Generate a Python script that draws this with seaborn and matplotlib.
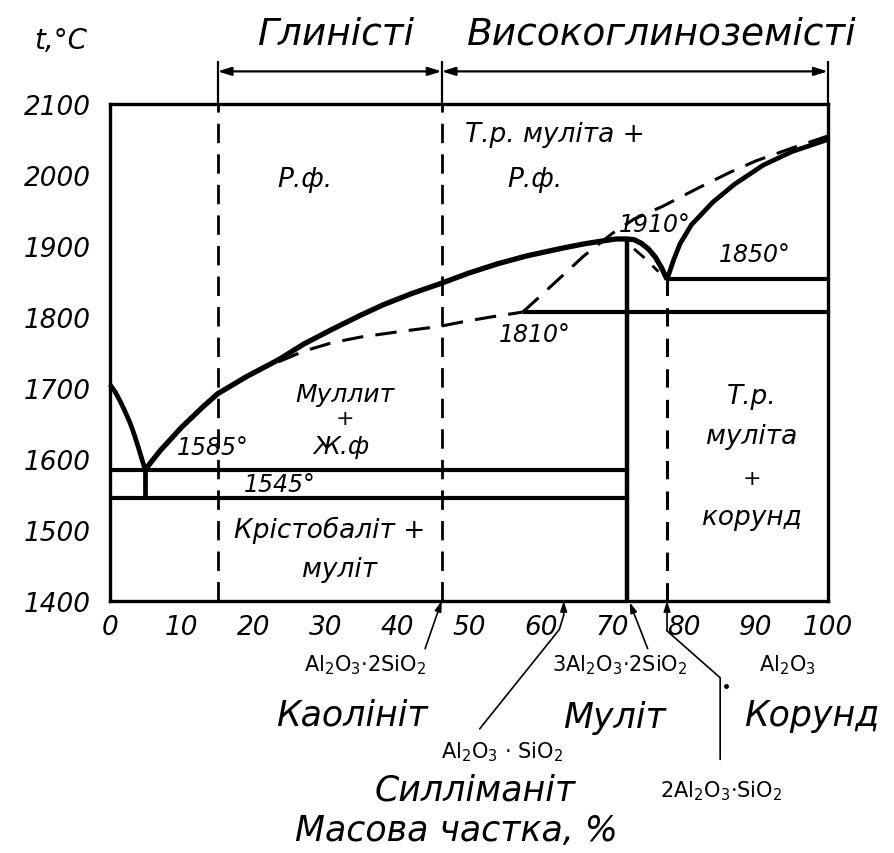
import matplotlib
matplotlib.use("Agg")
import matplotlib.pyplot as plt
import seaborn as sns
import numpy as np
import pandas as pd

# ---------------- data (mass fraction Al2O3, %, temperature °C) ----------------
crist_liq_x = [0, 0.7, 1.4, 2.1, 2.8, 3.4, 4.0, 4.5, 4.9]
crist_liq_t = [1705, 1695, 1682, 1667, 1651, 1634, 1615, 1598, 1585]

mull_liq_x = [4.9, 7, 10, 13, 15, 19, 23.5, 27, 31, 35, 38, 42, 46, 50, 54, 58, 63, 66,
              68.5, 70.5, 72, 73, 74, 75, 76, 76.8, 77.6]
mull_liq_t = [1585, 1612, 1645, 1674, 1692, 1716, 1740, 1762, 1783, 1803, 1817, 1833, 1847,
              1862, 1875, 1886, 1897, 1903, 1907, 1910, 1910, 1909, 1904, 1896, 1884, 1870, 1853]

corund_liq_x = [77.6, 78.5, 79.4, 81, 84, 87, 91, 95, 100]
corund_liq_t = [1853, 1880, 1903, 1930, 1962, 1987, 2014, 2033, 2050]

meta_upper_x = [57.5, 60, 63, 66, 70, 73, 77, 82, 86.4, 90, 95, 100]
meta_upper_t = [1807, 1830, 1858, 1886, 1918, 1938, 1956, 1982, 2004, 2020, 2038, 2055]

meta_lower_x = [23.5, 27, 31, 35, 40, 46, 49, 53, 57.5]
meta_lower_t = [1737, 1752, 1764, 1772, 1779, 1787, 1793, 1800, 1807]

meta_arc_x = [73.0, 74.6, 76.4]
meta_arc_t = [1896, 1882, 1864]

eutectic_lo_t = 1585
solidus_t = 1545
eutectic_hi_t = 1853
line_1810_t = 1807
mullite_x = 72
eut_hi_x = 77.6
eut_lo_x = 4.9
kaolin_x = 46.2
clay_x = 15

x_ticks = [0, 10, 20, 30, 40, 50, 60, 70, 80, 90, 100]
y_ticks = [1400, 1500, 1600, 1700, 1800, 1900, 2000, 2100]

sns.set_style("white")
plt.rcParams['font.family'] = ['DejaVu Sans']
plt.rcParams['mathtext.fontset'] = 'dejavusans'

fig = plt.figure(figsize=(8.94, 8.54), dpi=100)
ax = fig.add_axes([0.123, 0.295, 0.803, 0.582])
ax.set_xlim(0, 100)
ax.set_ylim(1400, 2100)

K = 'black'

def curve(xs, ts, lw=3.6, ls='-', dashes=None):
    df = pd.DataFrame({'x': xs, 't': ts})
    kw = {}
    if ls != '-':
        kw['linestyle'] = ls
    sns.lineplot(data=df, x='x', y='t', sort=False, estimator=None, color=K,
                 linewidth=lw, ax=ax, **kw)
    line = ax.lines[-1]
    if dashes is not None:
        line.set_dashes(dashes)
    line.set_clip_on(False)
    line.set_solid_capstyle('butt')
    line.set_solid_joinstyle('round')
    return line

# liquidus curves
curve(crist_liq_x, crist_liq_t, lw=3.4)
curve(mull_liq_x, mull_liq_t, lw=3.8)
curve(corund_liq_x, corund_liq_t, lw=3.4)
# metastable dashed curves
curve(meta_upper_x, meta_upper_t, lw=2.2, ls='--', dashes=(7, 4))
curve(meta_lower_x, meta_lower_t, lw=2.2, ls='--', dashes=(7, 4))
curve(meta_arc_x, meta_arc_t, lw=2.0, ls='--', dashes=(5, 4))

# horizontal lines
curve([0, mullite_x], [eutectic_lo_t, eutectic_lo_t], lw=3.0)
curve([0, mullite_x], [solidus_t, solidus_t], lw=3.0)
curve([eut_hi_x, 100], [eutectic_hi_t, eutectic_hi_t], lw=3.0)
curve([57.5, 100], [line_1810_t, line_1810_t], lw=3.0)
# vertical lines
curve([eut_lo_x, eut_lo_x], [solidus_t, eutectic_lo_t], lw=3.4)
curve([mullite_x, mullite_x], [1400, 1910], lw=3.2)
curve([eut_hi_x, eut_hi_x], [1400, eutectic_hi_t], lw=2.2, ls='--', dashes=(6, 4))
curve([clay_x, clay_x], [1400, 2100], lw=2.0, ls='--', dashes=(7, 4))
curve([kaolin_x, kaolin_x], [1400, 2100], lw=2.0, ls='--', dashes=(7, 4))
# extensions above frame
curve([clay_x, clay_x], [2100, 2160], lw=1.6)
curve([kaolin_x, kaolin_x], [2100, 2160], lw=1.6)
curve([100, 100], [2100, 2160], lw=1.6)

# double arrows
for a, b in [(clay_x, kaolin_x), (kaolin_x, 100)]:
    ax.annotate('', xy=(a, 2146), xytext=(b, 2146), annotation_clip=False,
                arrowprops=dict(arrowstyle='<|-|>,head_length=0.8,head_width=0.25',
                                color=K, lw=1.6, shrinkA=0, shrinkB=0))

# spines & ticks
for s in ax.spines.values():
    s.set_color(K)
    s.set_linewidth(2.4)
ax.set_xticks(x_ticks)
ax.set_yticks(y_ticks)
ax.set_xticklabels([str(v) for v in x_ticks])
ax.set_yticklabels([str(v) for v in y_ticks])
ax.tick_params(axis='x', direction='in', length=12, width=1.8, pad=9, labelsize=19,
               colors=K, labelcolor=K)
ax.tick_params(axis='y', direction='in', length=14, width=1.8, pad=14, labelsize=19,
               colors=K, labelcolor=K)
for lbl in ax.get_xticklabels() + ax.get_yticklabels():
    lbl.set_style('italic')
ax.set_xlabel('')
ax.set_ylabel('')

def T(x, t, s, size=18, style='italic', ha='center', **kw):
    ax.text(x, t, s, fontsize=size, style=style, ha=ha, va='center', color=K,
            clip_on=False, **kw)

# titles
T(31.6, 2200, 'Глиністі', size=27)
T(76.9, 2200, 'Високоглиноземісті', size=27)
T(-6.9, 2190, 't,°C', size=20)

# inside labels
T(27.2, 1994, 'Р.ф.', size=19)
T(62.0, 2058, 'Т.р. муліта +', size=19)
T(59.2, 1994, 'Р.ф.', size=19)
T(75.9, 1931, '1910°', size=17)
T(89.8, 1889, '1850°', size=17)
T(59.2, 1776, '1810°', size=17)
T(32.7, 1692, 'Муллит', size=18)
T(32.7, 1658, '+', size=16)
T(32.2, 1618, 'Ж.ф', size=18)
T(14.3, 1617, '1585°', size=17)
T(23.7, 1565, '1545°', size=17)
T(30.6, 1501, 'Крістобаліт +', size=19)
T(32.0, 1445, 'муліт', size=19)
T(89.4, 1689, 'Т.р.', size=19)
T(89.4, 1632, 'муліта', size=19)
T(89.4, 1574, '+', size=16)
T(89.4, 1518, 'корунд', size=19)

# below axis
T(35.5, 1311, r'Al$_2$O$_3$·2SiO$_2$', size=15, style='normal')
T(33.7, 1240, 'Каолініт', size=25)
T(71.0, 1311, r'3Al$_2$O$_3$·2SiO$_2$', size=15, style='normal')
T(70.3, 1237, 'Муліт', size=25)
T(94.3, 1311, r'Al$_2$O$_3$', size=15, style='normal')
T(97.8, 1240, 'Корунд', size=25)
T(54.6, 1188, r'Al$_2$O$_3$ · SiO$_2$', size=15, style='normal')
T(50.8, 1134, 'Силліманіт', size=25)
T(85.2, 1134, r'2Al$_2$O$_3$·SiO$_2$', size=15, style='normal')
T(48.3, 1078, 'Масова частка, %', size=25)

# leader lines with arrows
def leader(xs, ts):
    ax.plot(xs[:-1], ts[:-1], color=K, lw=1.2, clip_on=False)
    ax.annotate('', xy=(xs[-1], ts[-1]), xytext=(xs[-2], ts[-2]), annotation_clip=False,
                arrowprops=dict(arrowstyle='-|>,head_length=0.6,head_width=0.2',
                                color=K, lw=1.2, shrinkA=0, shrinkB=0))

leader([43.9, 46.2], [1333, 1400])
leader([51.5, 62.6, 63.2, 63.2], [1220, 1360, 1380, 1400])
leader([74.9, 72.4], [1333, 1398])
leader([85.0, 85.0, 77.6, 77.6], [1177, 1292, 1358, 1400])
ax.plot([85.8], [1280], marker='o', markersize=2.5, color=K, clip_on=False)

fig.savefig('out.png', dpi=100, facecolor='white')
